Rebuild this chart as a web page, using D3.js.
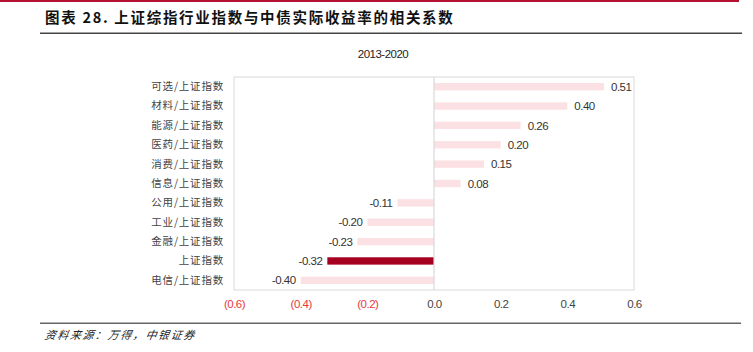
<!DOCTYPE html>
<html>
<head>
<meta charset="utf-8">
<script src="https://cdn.jsdelivr.net/npm/d3@7"></script>
<style>
  body { margin: 0; background: #fff; }
  svg { display: block; }
  .cat text { font-family: "Noto Sans CJK SC", sans-serif; font-size: 10.5px; fill: #444; letter-spacing: 0.8px; }
  .val { font-family: "Liberation Sans", Arial, sans-serif; font-size: 11.5px; fill: #333; letter-spacing: -0.5px; }
  .axis-x text { font-family: "Liberation Sans", Arial, sans-serif; font-size: 11.5px; letter-spacing: -0.5px; }
</style>
</head>
<body>
<svg width="753" height="352"></svg>
<script>
const categories = ['可选/上证指数', '材料/上证指数', '能源/上证指数', '医药/上证指数', '消费/上证指数',
  '信息/上证指数', '公用/上证指数', '工业/上证指数', '金融/上证指数', '上证指数', '电信/上证指数'];
const values = [0.51, 0.40, 0.26, 0.20, 0.15, 0.08, -0.11, -0.20, -0.23, -0.32, -0.40];
const highlight = '上证指数';
const xTicks = [-0.6, -0.4, -0.2, 0, 0.2, 0.4, 0.6];

const svg = d3.select('svg');
const plot = { left: 234, right: 634, top: 77, bottom: 290 };

// header & footer rules
svg.append('rect').attr('x', 0).attr('y', 0).attr('width', 739).attr('height', 2).attr('fill', '#b5102f');
svg.append('text')
  .attr('x', 45).attr('y', 23)
  .style('font-family', '"Noto Sans CJK SC", sans-serif')
  .style('font-size', '14.5px').style('font-weight', 'bold').style('letter-spacing', '1.7px').attr('fill', '#111')
  .text('图表 28. 上证综指行业指数与中债实际收益率的相关系数');
svg.append('rect').attr('x', 40).attr('y', 32.5).attr('width', 702).attr('height', 1.5).attr('fill', '#444');
svg.append('rect').attr('x', 40).attr('y', 322.5).attr('width', 701).attr('height', 1.5).attr('fill', '#666');
svg.append('text')
  .attr('x', 45).attr('y', 339)
  .style('font-family', '"Noto Sans CJK SC", sans-serif')
  .style('font-size', '11px').style('font-style', 'italic').style('letter-spacing', '1.6px').attr('fill', '#222')
  .attr('transform', 'skewX(-10) translate(59,0)')
  .text('资料来源：万得，中银证券');

svg.append('text')
  .attr('x', 383).attr('y', 58).attr('text-anchor', 'middle')
  .style('font-family', '"Liberation Sans", Arial, sans-serif').style('font-size', '11.5px')
  .style('letter-spacing', '-0.5px').attr('fill', '#222')
  .text('2013-2020');

const x = d3.scaleLinear().domain([-0.6, 0.6]).range([plot.left, plot.right]);
const y = d3.scaleBand().domain(categories).range([plot.top, plot.bottom]).paddingInner(0.62).paddingOuter(0.31);

// plot frame
svg.append('rect')
  .attr('x', plot.left).attr('y', plot.top)
  .attr('width', plot.right - plot.left).attr('height', plot.bottom - plot.top)
  .attr('fill', 'none').attr('stroke', '#d9d9d9');

svg.append('g').selectAll('rect')
  .data(categories)
  .join('rect')
  .attr('x', (d, i) => Math.min(x(0), x(values[i])))
  .attr('y', d => y(d))
  .attr('width', (d, i) => Math.abs(x(values[i]) - x(0)))
  .attr('height', y.bandwidth())
  .attr('fill', d => d === highlight ? '#a50021' : '#fce1e4');

// zero line
svg.append('line')
  .attr('x1', x(0)).attr('x2', x(0)).attr('y1', plot.top).attr('y2', plot.bottom)
  .attr('stroke', '#d9d9d9').attr('stroke-width', 1.2);

svg.append('g').selectAll('text')
  .data(categories)
  .join('text')
  .attr('class', 'val')
  .attr('x', (d, i) => values[i] >= 0 ? x(values[i]) + 7 : x(values[i]) - 5)
  .attr('y', d => y(d) + y.bandwidth() / 2)
  .attr('dy', '0.36em')
  .attr('text-anchor', (d, i) => values[i] >= 0 ? 'start' : 'end')
  .text((d, i) => values[i].toFixed(2));

// category axis
const axisY = d3.axisLeft(y).tickSize(0).tickPadding(10);
svg.append('g').attr('class', 'cat')
  .attr('transform', `translate(${plot.left},0)`)
  .call(axisY)
  .call(g => g.select('.domain').remove());

// value axis
const fmt = d => d < 0 ? `(${Math.abs(d).toFixed(1)})` : d.toFixed(1);
const axisX = d3.axisBottom(x).tickValues(xTicks).tickFormat(fmt).tickSize(0).tickPadding(10);
svg.append('g').attr('class', 'axis-x')
  .attr('transform', `translate(0,${plot.bottom})`)
  .call(axisX)
  .call(g => g.select('.domain').remove())
  .call(g => g.selectAll('text').attr('fill', d => d < 0 ? '#e8383d' : '#444'));
</script>
</body>
</html>
